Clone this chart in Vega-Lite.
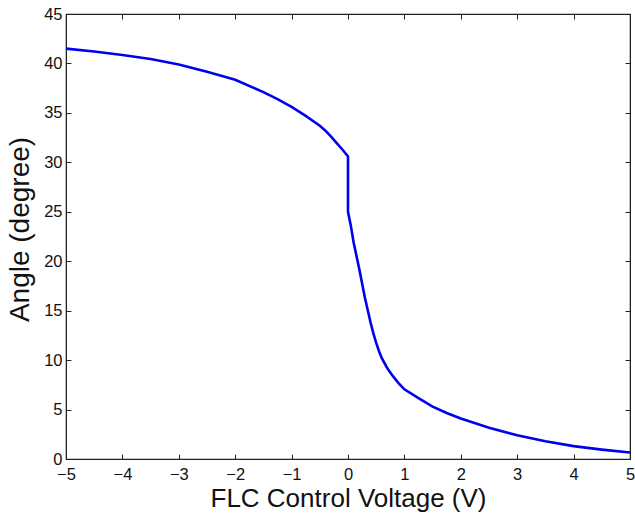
{
  "$schema": "https://vega.github.io/schema/vega-lite/v6.json",
  "width": 564,
  "height": 445,
  "autosize": {"type": "none"},
  "padding": {"left": 66, "top": 14, "right": 5, "bottom": 55},
  "background": "white",
  "config": {
    "font": "Liberation Sans",
    "view": {"stroke": "#222", "strokeWidth": 1.2},
    "axis": {
      "grid": false,
      "domainColor": "#222",
      "tickColor": "#222",
      "tickSize": -5,
      "labelColor": "#111",
      "titleColor": "#111",
      "labelFont": "Liberation Sans",
      "titleFont": "Liberation Sans",
      "labelFontSize": 16.5,
      "titleFontSize": 26,
      "titleFontWeight": "normal"
    }
  },
  "data": {
    "values": [
      {"i": 0, "v": -5, "a": 41.5},
      {"i": 1, "v": -4.5, "a": 41.2},
      {"i": 2, "v": -4, "a": 40.85},
      {"i": 3, "v": -3.5, "a": 40.45},
      {"i": 4, "v": -3, "a": 39.9},
      {"i": 5, "v": -2.5, "a": 39.15},
      {"i": 6, "v": -2, "a": 38.35},
      {"i": 7, "v": -1.5, "a": 37.1},
      {"i": 8, "v": -1.25, "a": 36.4},
      {"i": 9, "v": -1, "a": 35.6},
      {"i": 10, "v": -0.75, "a": 34.7},
      {"i": 11, "v": -0.5, "a": 33.7},
      {"i": 12, "v": -0.4, "a": 33.2},
      {"i": 13, "v": -0.3, "a": 32.6},
      {"i": 14, "v": -0.2, "a": 31.95},
      {"i": 15, "v": -0.1, "a": 31.3},
      {"i": 16, "v": 0, "a": 30.6},
      {"i": 17, "v": 0, "a": 25.0},
      {"i": 18, "v": 0.05, "a": 23.6},
      {"i": 19, "v": 0.1, "a": 21.9},
      {"i": 20, "v": 0.2, "a": 19.2},
      {"i": 21, "v": 0.3, "a": 16.3},
      {"i": 22, "v": 0.4, "a": 13.8},
      {"i": 23, "v": 0.45, "a": 12.7},
      {"i": 24, "v": 0.5, "a": 11.75},
      {"i": 25, "v": 0.55, "a": 10.9},
      {"i": 26, "v": 0.6, "a": 10.2},
      {"i": 27, "v": 0.7, "a": 9.15},
      {"i": 28, "v": 0.8, "a": 8.35},
      {"i": 29, "v": 0.9, "a": 7.65},
      {"i": 30, "v": 1.0, "a": 7.05},
      {"i": 31, "v": 1.25, "a": 6.15},
      {"i": 32, "v": 1.5, "a": 5.3},
      {"i": 33, "v": 1.75, "a": 4.65},
      {"i": 34, "v": 2, "a": 4.1},
      {"i": 35, "v": 2.5, "a": 3.15},
      {"i": 36, "v": 3, "a": 2.4},
      {"i": 37, "v": 3.5, "a": 1.8},
      {"i": 38, "v": 4, "a": 1.3},
      {"i": 39, "v": 4.5, "a": 0.95},
      {"i": 40, "v": 5, "a": 0.65}
    ]
  },
  "layer": [
    {
      "mark": {"type": "line", "color": "#0000ee", "strokeWidth": 2.6},
      "encoding": {
        "x": {
          "field": "v", "type": "quantitative",
          "scale": {"domain": [-5, 5], "nice": false, "zero": false},
          "axis": {"title": "FLC Control Voltage (V)", "values": [-5,-4,-3,-2,-1,0,1,2,3,4,5], "labelPadding": 12, "titlePadding": 3, "labelFlush": false}
        },
        "y": {
          "field": "a", "type": "quantitative",
          "scale": {"domain": [0, 45], "nice": false},
          "axis": {"title": "Angle (degree)", "titleFontSize": 28, "titleY": 215, "values": [0,5,10,15,20,25,30,35,40,45], "labelPadding": 9, "titlePadding": 9, "labelFlush": false}
        },
        "order": {"field": "i", "type": "quantitative"}
      }
    },
    {
      "mark": {"type": "point", "opacity": 0},
      "encoding": {
        "x": {
          "field": "v", "type": "quantitative",
          "axis": {"orient": "top", "title": null, "labels": false, "values": [-5,-4,-3,-2,-1,0,1,2,3,4,5]}
        },
        "y": {
          "field": "a", "type": "quantitative",
          "axis": {"orient": "right", "title": null, "labels": false, "values": [0,5,10,15,20,25,30,35,40,45]}
        }
      }
    }
  ],
  "resolve": {"axis": {"x": "independent", "y": "independent"}}
}
